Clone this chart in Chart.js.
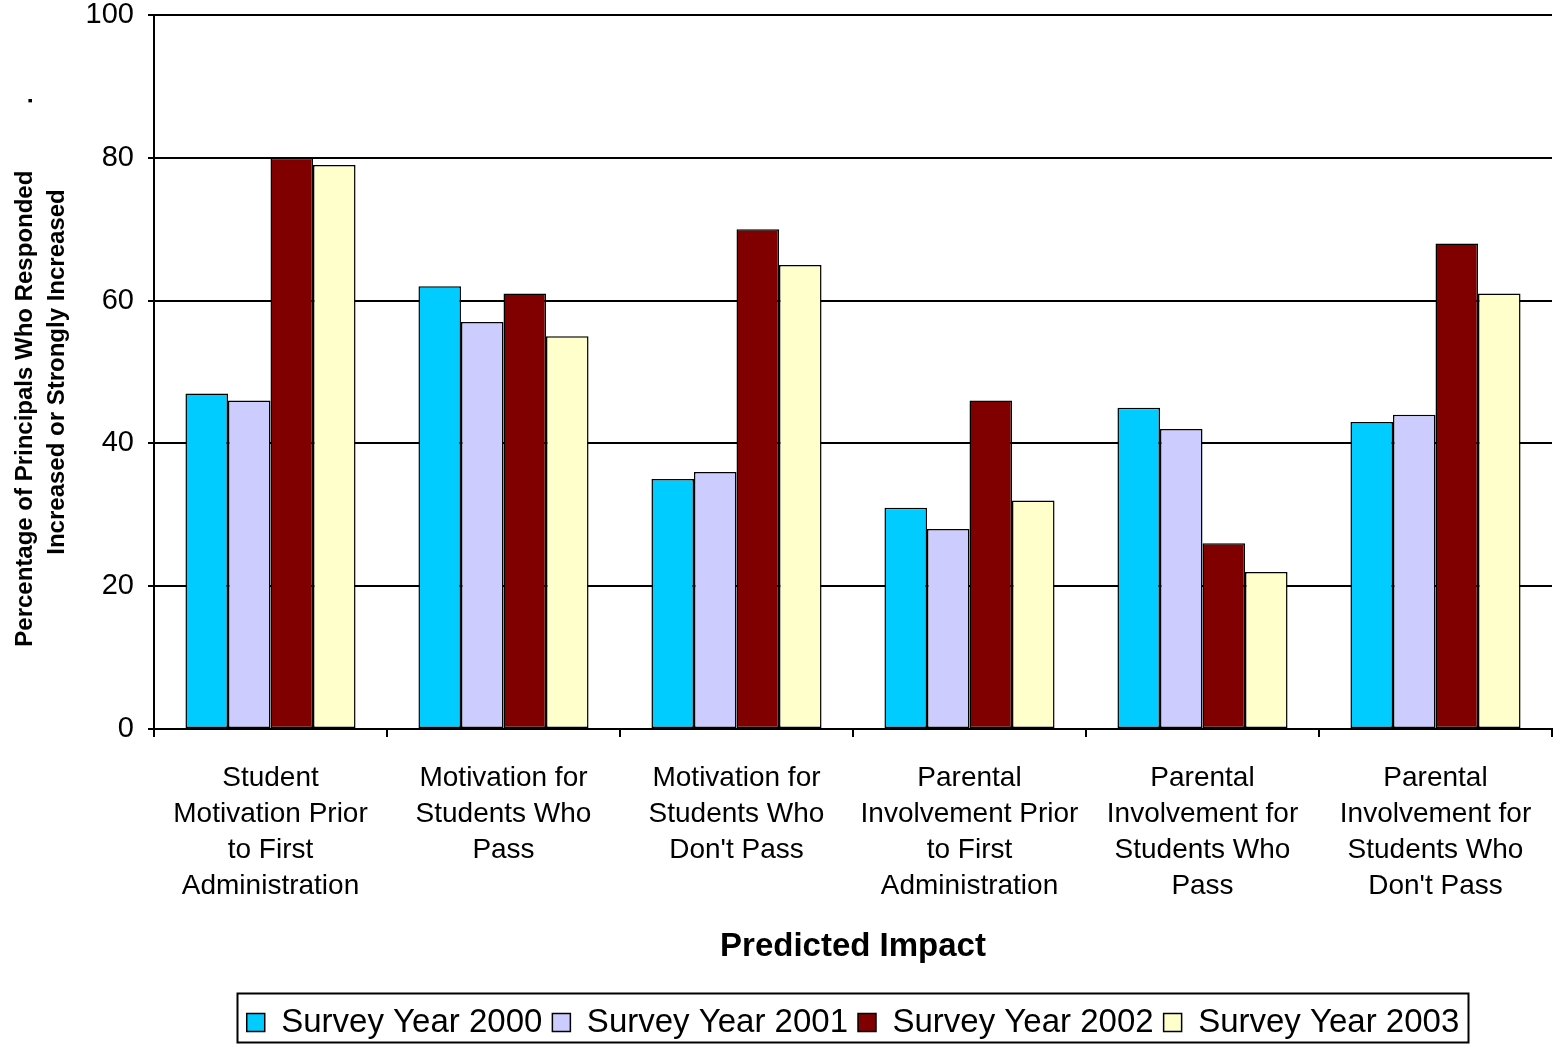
<!DOCTYPE html>
<html><head><meta charset="utf-8">
<script src="https://cdn.jsdelivr.net/npm/chart.js@4.4.1/dist/chart.umd.min.js"></script>
<style>html,body{margin:0;padding:0;background:#fff}#wrap{width:1558px;height:1044px}</style>
</head><body><div id="wrap"><canvas id="c" width="1558" height="1044"></canvas></div>
<script>
const categories = [
  ["Student", "Motivation Prior", "to First", "Administration"],
  ["Motivation for", "Students Who", "Pass"],
  ["Motivation for", "Students Who", "Don't Pass"],
  ["Parental", "Involvement Prior", "to First", "Administration"],
  ["Parental", "Involvement for", "Students Who", "Pass"],
  ["Parental", "Involvement for", "Students Who", "Don't Pass"]
];
const seriesNames = ["Survey Year 2000", "Survey Year 2001", "Survey Year 2002", "Survey Year 2003"];
const year2000 = [47, 62, 35, 31, 45, 43];
const year2001 = [46, 57, 36, 28, 42, 44];
const year2002 = [80, 61, 70, 46, 26, 68];
const year2003 = [79, 55, 65, 32, 22, 61];
const yTicks = [0, 20, 40, 60, 80, 100];
const colors = ["#00CCFF", "#CCCCFF", "#800000", "#FFFFCC"];
const yTitle = ["Percentage of Principals Who Responded          .", "Increased or Strongly Increased"];
const xTitle = "Predicted Impact";

const FONT = "'Liberation Sans', Arial, sans-serif";
const values = [year2000, year2001, year2002, year2003];

const extras = {
  id: 'extras',
  afterLayout(chart) {
    const lg = chart.legend;
    const shift = (chart.chartArea.left + chart.chartArea.right) / 2 - (lg.left + lg.right) / 2;
    lg.left += shift; lg.right += shift;
    lg.top += 5; lg.bottom += 5;
  },
  afterDraw(chart) {
    const ctx = chart.ctx;
    const hb = chart.legend.legendHitBoxes;
    if (hb && hb.length) {
      const l = Math.min(...hb.map(h => h.left)) - 10;
      const r = Math.max(...hb.map(h => h.left + h.width)) + 8;
      ctx.save();
      ctx.strokeStyle = '#000'; ctx.lineWidth = 2;
      ctx.strokeRect(Math.round(l) + 0.5, 993.5, Math.round(r - l), 49);
      ctx.restore();
    }
  }
};

new Chart(document.getElementById('c'), {
  type: 'bar',
  data: {
    labels: categories,
    datasets: seriesNames.map((n, i) => ({
      label: n,
      data: values[i],
      backgroundColor: colors[i],
      borderColor: '#000',
      borderWidth: 1.5,
      borderSkipped: false,
      categoryPercentage: 0.73,
      barPercentage: 1.0
    }))
  },
  plugins: [extras],
  options: {
    responsive: false,
    animation: false,
    devicePixelRatio: 1,
    layout: { padding: { left: 0, right: 6, top: 0, bottom: 0 } },
    plugins: {
      tooltip: { enabled: false },
      legend: {
        position: 'bottom',
        labels: {
          color: '#000',
          font: { family: FONT, size: 33 },
          boxWidth: 18, boxHeight: 18,
          padding: 10,
          generateLabels(chart) {
            return chart.data.datasets.map((d, i) => ({
              text: d.label, fillStyle: d.backgroundColor, strokeStyle: '#000',
              lineWidth: 1.5, hidden: false, datasetIndex: i, fontColor: '#000'
            }));
          }
        }
      }
    },
    scales: {
      x: {
        afterFit(s) { s.height = 1044 - 729 - s.chart.legend.height; },
        grid: { display: true, drawOnChartArea: false, offset: true, color: '#000', lineWidth: 2, tickLength: 8, tickColor: '#000' },
        border: { display: true, color: '#000', width: 2 },
        ticks: { color: '#000', font: { family: FONT, size: 28, lineHeight: 1.286 }, padding: 23, maxRotation: 0, autoSkip: false },
        title: { display: true, text: xTitle, color: '#000', font: { family: FONT, size: 33, weight: 'bold' }, padding: { top: 10, bottom: 24 } }
      },
      y: {
        min: 0, max: 100,
        afterFit(s) { s.width = 154; s.paddingTop = 15; s.paddingBottom = 0; },
        afterBuildTicks(s) { s.ticks = yTicks.map(v => ({ value: v })); },
        grid: { color: '#000', lineWidth: 2, tickLength: 6, tickColor: '#000' },
        border: { display: true, color: '#000', width: 2 },
        ticks: { color: '#000', font: { family: FONT, size: 29, lineHeight: 1.0 }, padding: 14 },
        title: { display: true, text: yTitle, color: '#000', font: { family: FONT, size: 24, weight: 'bold', lineHeight: 1.333 }, padding: { top: 9, bottom: 0 } }
      }
    }
  }
});
</script></body></html>
